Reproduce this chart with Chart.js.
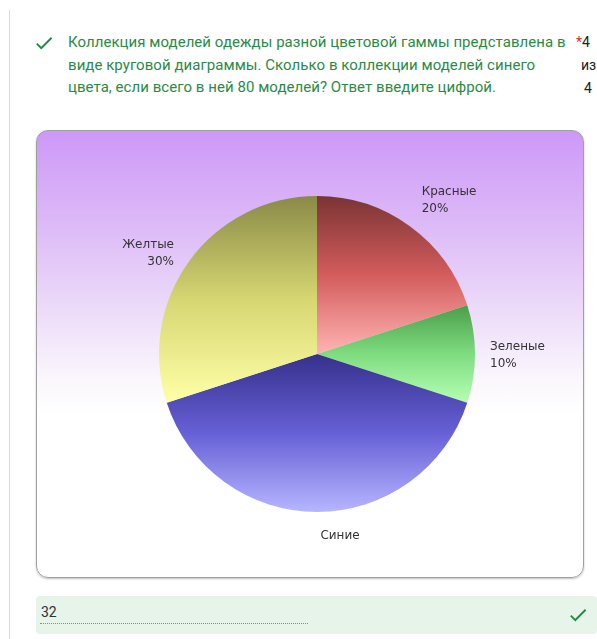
<!DOCTYPE html>
<html lang="ru">
<head>
<meta charset="utf-8">
<title>Коллекция моделей одежды</title>
<script src="https://cdn.jsdelivr.net/npm/chart.js@4/dist/chart.umd.min.js"></script>
<style>
  html, body { margin: 0; padding: 0; background: #fff; }
  body { width: 597px; height: 639px; position: relative; overflow: hidden; font-family: Roboto, "Open Sans", sans-serif; }
  .side-line { position: absolute; left: 9px; top: 10px; width: 1px; height: 640px; background: #dadce0; }
  .check { position: absolute; fill: #1e8e3e; }
  .question { position: absolute; left: 68px; top: 31px; font-size: 15px; line-height: 22.5px; color: #2b8a46; letter-spacing: 0.05px; white-space: nowrap; }
  .points { position: absolute; left: 576px; top: 31px; font-size: 14px; line-height: 23px; color: #202124; }
  .points .star { color: #d93025; }
  .card { position: absolute; left: 36px; top: 130px; width: 546px; height: 446px; border: 1px solid #a0a0a0; border-radius: 12px;
          box-shadow: 0 1px 2px rgba(0,0,0,0.25);
          background: linear-gradient(#cd98f8 0%, #dcb8f7 20%, #ecdbf9 40%, #fbf7fd 56%, #fff 64%, #fff 100%); overflow: hidden; }
  .card canvas { position: absolute; left: 0; top: 0; }
  .answer { position: absolute; left: 36px; top: 596px; width: 561px; height: 38px; background: #e6f4ea; border-radius: 4px; }
  .answer .val { position: absolute; left: 5px; top: 8px; font-size: 14px; color: #303134; }
  .answer .line { position: absolute; left: 4px; top: 27px; width: 268px; border-bottom: 1px dotted #8a8a8a; }
</style>
</head>
<body>
<div class="side-line"></div>
<svg class="check" style="left:33px;top:32px" width="22" height="22" viewBox="0 0 24 24"><path d="M9 16.17L4.83 12l-1.42 1.41L9 19 21 7l-1.41-1.41z"/></svg>
<div class="question">Коллекция моделей одежды разной цветовой гаммы представлена в<br>виде круговой диаграммы. Сколько в коллекции моделей синего<br>цвета, если всего в ней 80 моделей? Ответ введите цифрой.</div>
<div class="points"><span class="star">*</span>4<br><span style="margin-left:5px">из</span><br><span style="margin-left:8px">4</span></div>

<div class="card"><canvas id="pie" width="546" height="446"></canvas></div>

<div class="answer">
  <div class="val">32</div>
  <div class="line"></div>
  <svg class="check" style="left:531px;top:8px" width="22" height="22" viewBox="0 0 24 24"><path d="M9 16.17L4.83 12l-1.42 1.41L9 19 21 7l-1.41-1.41z"/></svg>
</div>

<script>
// slices, clockwise from 12 o'clock
const categories = ["Красные", "Зеленые", "Синие", "Желтые"];
const shares = [20, 10, 40, 30];
const showPercent = [true, true, false, true];
// shade of each slice at its top, middle and bottom
const topColors = ["#7a3434", "#4a9e4a", "#36308c", "#8a8a48"];
const midColors = ["#d45c5c", "#7fdc7f", "#6660d6", "#d6d672"];
const bottomColors = ["#ffb4b4", "#b4ffb4", "#b6b6ff", "#ffffa8"];

// fills every slice with a vertical gradient over its own height
const sliceGradients = {
  id: "sliceGradients",
  beforeDatasetsDraw(chart) {
    const ctx = chart.ctx;
    chart.getDatasetMeta(0).data.forEach((arc, i) => {
      const { x, y, startAngle, endAngle, outerRadius } = arc.getProps(["x", "y", "startAngle", "endAngle", "outerRadius"], true);
      let minY = y, maxY = y;
      for (let k = 0; k <= 60; k++) {
        const a = startAngle + (endAngle - startAngle) * k / 60;
        const py = y + Math.sin(a) * outerRadius;
        minY = Math.min(minY, py);
        maxY = Math.max(maxY, py);
      }
      const g = ctx.createLinearGradient(0, minY, 0, maxY);
      g.addColorStop(0, topColors[i]);
      g.addColorStop(0.5, midColors[i]);
      g.addColorStop(1, bottomColors[i]);
      arc.options.backgroundColor = g;
    });
  }
};

// category name and share beside each slice
const outerLabels = {
  id: "outerLabels",
  afterDatasetsDraw(chart, args, opts) {
    const ctx = chart.ctx;
    ctx.save();
    ctx.font = opts.font;
    ctx.fillStyle = opts.color;
    ctx.textBaseline = "middle";
    chart.getDatasetMeta(0).data.forEach((arc, i) => {
      const { x, y, startAngle, endAngle, outerRadius } = arc.getProps(["x", "y", "startAngle", "endAngle", "outerRadius"], true);
      const mid = (startAngle + endAngle) / 2;
      const r = outerRadius + opts.gap;
      const nudge = opts.nudge[i] || [0, 0];
      const lx = x + Math.cos(mid) * r + nudge[0];
      const ly = y + Math.sin(mid) * r + nudge[1];
      const c = Math.cos(mid);
      ctx.textAlign = c > 0.3 ? "left" : (c < -0.3 ? "right" : "center");
      const lines = [categories[i]];
      if (showPercent[i]) lines.push(shares[i] + "%");
      const top = ly - (lines.length - 1) * opts.lineHeight / 2;
      lines.forEach((t, k) => ctx.fillText(t, lx, top + k * opts.lineHeight));
    });
    ctx.restore();
  }
};

new Chart(document.getElementById("pie"), {
  type: "pie",
  data: {
    labels: categories,
    datasets: [{ data: shares, backgroundColor: topColors, borderWidth: 0, hoverOffset: 0 }]
  },
  options: {
    responsive: false,
    animation: false,
    events: [],
    layout: { padding: { left: 122, right: 108, top: 65, bottom: 65 } },
    plugins: {
      legend: { display: false },
      tooltip: { enabled: false },
      outerLabels: {
        font: "12px 'DejaVu Sans'",
        color: "#333333",
        gap: 20,
        lineHeight: 17,
        nudge: { 0: [0, -10], 1: [-5, 1], 2: [23, 4], 3: [1, 4] }
      }
    }
  },
  plugins: [sliceGradients, outerLabels]
});
</script>
</body>
</html>
